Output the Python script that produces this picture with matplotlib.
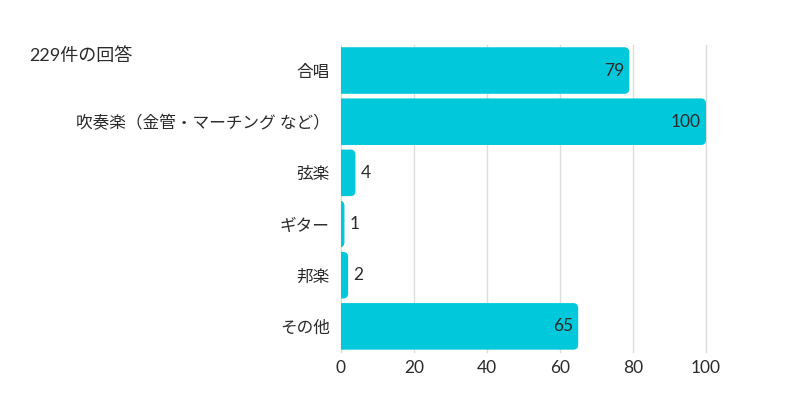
import numpy as np
import matplotlib.pyplot as plt
from matplotlib.patches import FancyBboxPatch

plt.rcParams['font.family'] = ['Lato', 'Noto Sans CJK JP', 'DejaVu Sans']

# data
categories = ["合唱", "吹奏楽（金管・マーチング など）", "弦楽", "ギター", "邦楽", "その他"]
counts = [79, 100, 4, 1, 2, 65]
xticks = [0, 20, 40, 60, 80, 100]
title = "229件の回答"

bar_color = "#02c8dc"
text_color = "#2b2b2b"

fig = plt.figure(figsize=(8, 4.2), dpi=100)
ax = fig.add_axes([0.426, 0.162, 0.4565, 0.731])

n = len(categories)
ax.set_xlim(0, 100)
ax.set_ylim(n - 0.5, -0.5)

# px per unit, for round corners
px_x = 0.4565 * 800 / 100
px_y = 0.731 * 420 / n
aspect = px_x / px_y
r = 5 / px_x

bh = 0.91
for i, v in enumerate(counts):
    p = FancyBboxPatch((-3, i - bh / 2), v + 3, bh,
                       boxstyle=f"round,pad=0,rounding_size={r}",
                       mutation_aspect=aspect, facecolor=bar_color,
                       edgecolor="none", zorder=3)
    ax.add_patch(p)
    if v >= 20:
        ax.text(v - 5 / px_x, i, str(v), ha="right", va="center",
                fontsize=12.5, color=text_color, zorder=4)
    else:
        ax.text(v + 5 / px_x, i, str(v), ha="left", va="center",
                fontsize=12.5, color=text_color, zorder=4)

ax.set_yticks(range(n))
ax.set_yticklabels(categories, fontsize=12, color=text_color)
ax.set_xticks(xticks)
ax.set_xticklabels([str(t) for t in xticks], fontsize=12.5, color=text_color)
ax.tick_params(axis="both", length=0)
ax.tick_params(axis="y", pad=8)
ax.tick_params(axis="x", pad=6)
ax.grid(axis="x", color="#dddddd", linewidth=1, zorder=0)
for gl in ax.get_xgridlines():
    gl.set_clip_on(False)
for s in ax.spines.values():
    s.set_visible(False)

fig.text(0.037, 0.868, title, fontsize=13, color=text_color, va="center")

fig.savefig("out.png", dpi=100)
